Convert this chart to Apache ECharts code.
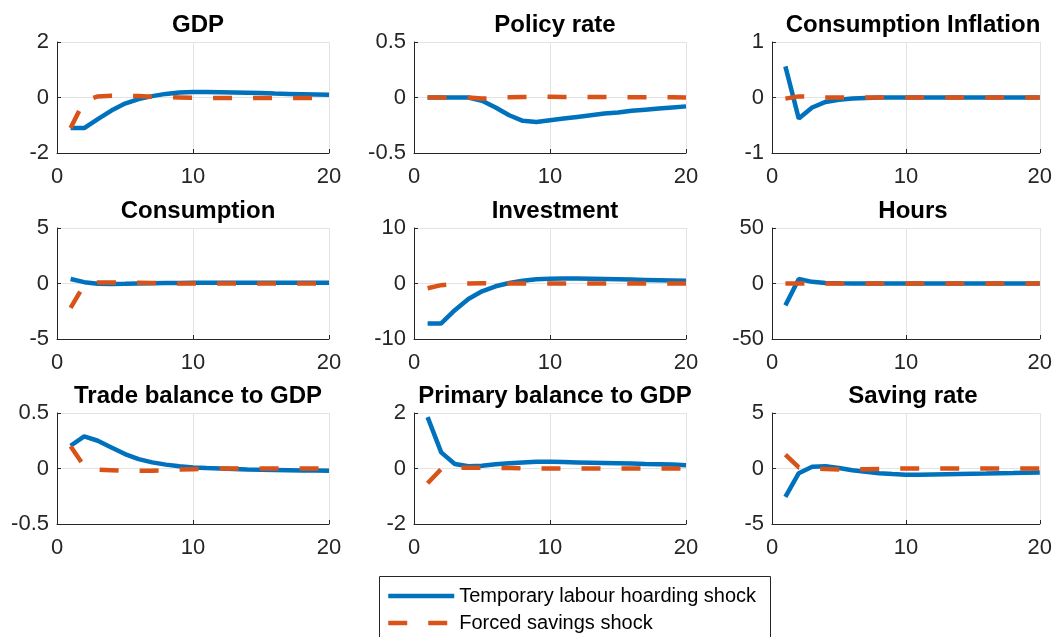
<!DOCTYPE html>
<html lang="en">
<head>
    <meta charset="UTF-8">
    <title>Impulse responses</title>
    <script src="https://cdn.jsdelivr.net/npm/echarts@6/dist/echarts.min.js"></script>
    <style>
        html, body { margin: 0; padding: 0; background: #fff; }
        #main { width: 1055px; height: 637px; }
    </style>
</head>
<body>
    <div id="main"></div>
    <script type="text/javascript">
    // quarters after the shock
    var periods = [1,2,3,4,5,6,7,8,9,10,11,12,13,14,15,16,17,18,19,20];
    var seriesNames = ['Temporary labour hoarding shock', 'Forced savings shock'];
    var titles = ['GDP', 'Policy rate', 'Consumption Inflation', 'Consumption', 'Investment', 'Hours',
                  'Trade balance to GDP', 'Primary balance to GDP', 'Saving rate'];
    var yLimits = [2, 0.5, 1, 5, 10, 50, 0.5, 2, 5];

    var gdpHoard    = [-1.1,-1.1,-0.78,-0.47,-0.22,-0.06,0.05,0.13,0.18,0.2,0.2,0.19,0.18,0.17,0.16,0.14,0.13,0.12,0.11,0.1];
    var gdpForced   = [-1.1,-0.12,0.04,0.06,0.06,0.05,0.03,0.01,0,-0.01,-0.02,-0.02,-0.02,-0.02,-0.02,-0.02,-0.02,-0.02,-0.02,-0.02];
    var rateHoard   = [0,0,0,0,-0.03,-0.09,-0.16,-0.21,-0.22,-0.205,-0.19,-0.175,-0.16,-0.145,-0.135,-0.12,-0.11,-0.1,-0.09,-0.08];
    var rateForced  = [0,0,0,0,-0.01,-0.005,0.002,0.005,0.006,0.006,0.005,0.005,0.004,0.004,0.003,0.003,0.002,0.002,0.002,0.001];
    var inflHoard   = [0.56,-0.38,-0.18,-0.08,-0.04,-0.02,-0.01,0,0,0,0,0,0,0,0,0,0,0,0,0];
    var inflForced  = [-0.02,0.02,0.01,0,0,0,0,0,0,0,0,0,0,0,0,0,0,0,0,0];
    var consHoard   = [0.4,0.12,-0.02,-0.05,-0.03,0,0.02,0.04,0.05,0.06,0.07,0.07,0.07,0.07,0.07,0.07,0.07,0.07,0.07,0.07];
    var consForced  = [-2.2,-0.1,0.1,0.1,0.08,0.06,0.04,0.02,0,-0.01,-0.01,-0.01,-0.01,-0.01,-0.01,-0.01,-0.01,-0.01,-0.01,-0.01];
    var invHoard    = [-7.2,-7.2,-4.8,-2.8,-1.4,-0.5,0.1,0.5,0.75,0.85,0.9,0.88,0.85,0.8,0.75,0.7,0.65,0.6,0.55,0.5];
    var invForced   = [-0.85,-0.3,-0.08,0.02,0.03,0.02,0.01,0,-0.01,-0.01,-0.01,-0.01,-0.01,-0.01,-0.01,-0.01,-0.01,-0.01,-0.01,-0.01];
    var hoursHoard  = [-19.7,4,1.5,0.5,0.2,0.1,0,0,0,0,0,0,0,0,0,0,0,0,0,0];
    var hoursForced = [0,0,0,0,0,0,0,0,0,0,0,0,0,0,0,0,0,0,0,0];
    var tradeHoard  = [0.205,0.29,0.25,0.19,0.13,0.085,0.055,0.035,0.02,0.01,0.004,0,-0.004,-0.008,-0.011,-0.013,-0.015,-0.017,-0.018,-0.02];
    var tradeForced = [0.2,0.02,-0.01,-0.015,-0.02,-0.02,-0.02,-0.015,-0.01,-0.006,-0.003,0,0,0,0,0,0,0,0,0];
    var primHoard   = [1.85,0.58,0.16,0.08,0.1,0.15,0.19,0.22,0.24,0.24,0.23,0.22,0.21,0.2,0.19,0.18,0.16,0.15,0.14,0.12];
    var primForced  = [-0.53,-0.02,0.03,0.03,0.03,0.02,0.02,0.01,0,0,0,0,0,0,0,0,0,0,0,0];
    var saveHoard   = [-2.55,-0.42,0.15,0.2,0.05,-0.15,-0.3,-0.42,-0.5,-0.56,-0.56,-0.54,-0.52,-0.5,-0.48,-0.46,-0.43,-0.41,-0.38,-0.36];
    var saveForced  = [1.25,0.1,0,-0.05,-0.08,-0.08,-0.06,-0.04,-0.02,0,0,0,0,0,0,0,0,0,0,0];

    var hoardData  = [gdpHoard, rateHoard, inflHoard, consHoard, invHoard, hoursHoard, tradeHoard, primHoard, saveHoard];
    var forcedData = [gdpForced, rateForced, inflForced, consForced, invForced, hoursForced, tradeForced, primForced, saveForced];

    var colLeft = [57, 414, 772];
    var rowTop = [42, 228, 413];
    var plotW = 272, plotH = 111;
    var axisColor = '#262626', gridColor = '#e3e3e3';

    function pairs(vals) {
        return periods.map(function (p, i) { return [p, vals[i]]; });
    }

    var grids = [], xAxes = [], yAxes = [], titleList = [], series = [];
    for (var k = 0; k < 9; k++) {
        var c = k % 3, r = Math.floor(k / 3);
        grids.push({ left: colLeft[c], top: rowTop[r], width: plotW, height: plotH });
        titleList.push({
            text: titles[k], left: colLeft[c] + plotW / 2, top: rowTop[r] - 34, textAlign: 'center',
            textStyle: { fontFamily: 'Liberation Sans', fontSize: 24, fontWeight: 'bold', color: '#000' }
        });
        xAxes.push({
            type: 'value', gridIndex: k, min: 0, max: 20, interval: 10,
            axisLine: { show: true, onZero: false, lineStyle: { color: axisColor, width: 1 } },
            axisTick: { show: true, inside: true, length: 4, lineStyle: { color: axisColor } },
            axisLabel: { color: axisColor, fontFamily: 'Liberation Sans', fontSize: 22, margin: 13 },
            splitLine: { show: true, lineStyle: { color: gridColor, width: 1 } }
        });
        yAxes.push({
            type: 'value', gridIndex: k, min: -yLimits[k], max: yLimits[k], interval: yLimits[k],
            axisLine: { show: true, onZero: false, lineStyle: { color: axisColor, width: 1 } },
            axisTick: { show: true, inside: true, length: 4, lineStyle: { color: axisColor } },
            axisLabel: { color: axisColor, fontFamily: 'Liberation Sans', fontSize: 22, margin: 8 },
            splitLine: { show: true, lineStyle: { color: gridColor, width: 1 } }
        });
        series.push({
            name: seriesNames[0], type: 'line', xAxisIndex: k, yAxisIndex: k,
            data: pairs(hoardData[k]), symbol: 'none', animation: false,
            lineStyle: { color: '#0072BD', width: 4.5 }, itemStyle: { color: '#0072BD' }
        });
        series.push({
            name: seriesNames[1], type: 'line', xAxisIndex: k, yAxisIndex: k,
            data: pairs(forcedData[k]), symbol: 'none', animation: false,
            lineStyle: { color: '#D95319', width: 4.5, type: [19, 21] }, itemStyle: { color: '#D95319' }
        });
    }

    var chart = echarts.init(document.getElementById('main'));
    chart.setOption({
        backgroundColor: '#fff',
        animation: false,
        title: titleList,
        grid: grids,
        xAxis: xAxes,
        yAxis: yAxes,
        // legend frame, open at the bottom edge of the picture
        graphic: [{
            type: 'rect', left: 379, top: 576, z: 0,
            shape: { width: 391, height: 90 },
            style: { fill: '#fff', stroke: '#262626', lineWidth: 1 }
        }],
        legend: {
            data: seriesNames, orient: 'vertical', left: 386, top: 586, z: 10,
            itemWidth: 66, itemHeight: 20, itemGap: 7, padding: 0,
            itemStyle: { opacity: 0 },
            lineStyle: { width: 4.5 },
            textStyle: { fontFamily: 'Liberation Sans', fontSize: 20, color: '#000' }
        },
        series: series
    });
    </script>
</body>
</html>
